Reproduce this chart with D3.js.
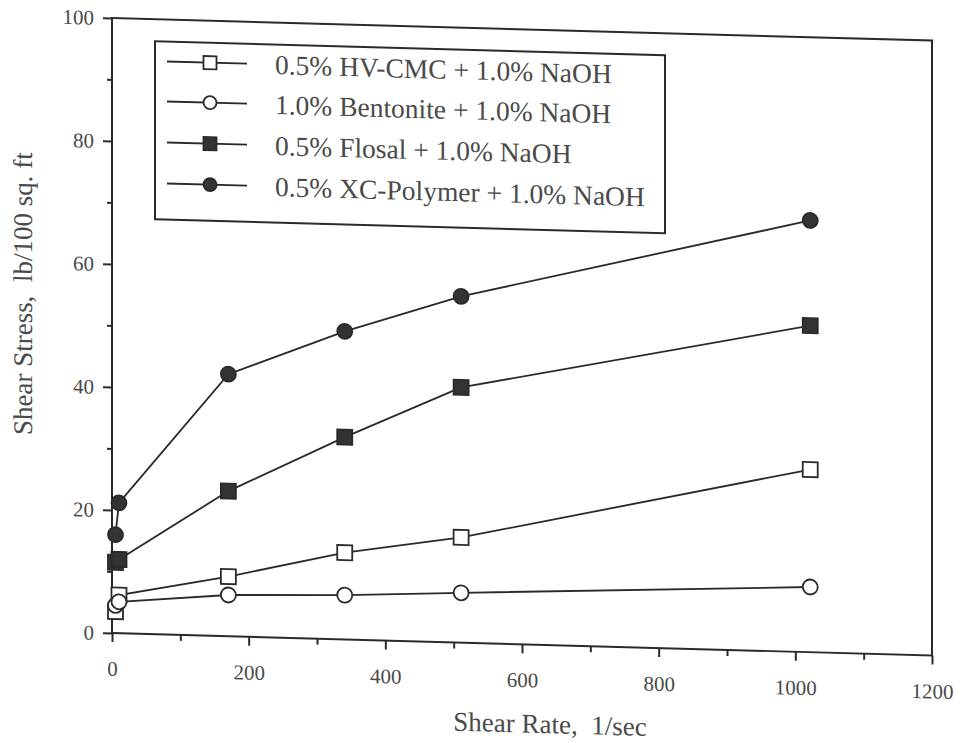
<!DOCTYPE html>
<html>
<head>
<meta charset="utf-8">
<script src="https://cdn.jsdelivr.net/npm/d3@7"></script>
<style>
  html, body { margin: 0; padding: 0; background: #ffffff; }
  svg text { font-family: "Liberation Serif", "Times New Roman", serif; fill: #4a4a4a; white-space: pre; }
</style>
</head>
<body>
<svg id="chart" width="960" height="743"></svg>
<script>
// ---- data ----
const shearRate = [5.11, 10.22, 170.3, 340.6, 510.9, 1021.8];
const hvCmc     = [3.5, 6.2, 9.7, 14.1, 17.1, 29.7];
const bentonite = [4.5, 5.1, 6.7, 7.2, 8.1, 10.6];
const flosal    = [11.5, 12.0, 23.6, 32.9, 41.5, 53.1];
const xcPolymer = [16.0, 21.2, 42.6, 50.1, 56.3, 70.2];
const seriesNames = [
  "0.5% HV-CMC + 1.0% NaOH",
  "1.0% Bentonite + 1.0% NaOH",
  "0.5% Flosal + 1.0% NaOH",
  "0.5% XC-Polymer + 1.0% NaOH"
];
const seriesMarkers = ["openSquare", "openCircle", "filledSquare", "filledCircle"];
const xTicks = [0, 200, 400, 600, 800, 1000, 1200];
const xMinorTicks = [100, 300, 500, 700, 900, 1100];
const yTicks = [0, 20, 40, 60, 80, 100];
const yMinorTicks = [10, 30, 50, 70, 90];
const xTitle = "Shear Rate,  1/sec";
const yTitle = "Shear Stress,  lb/100 sq. ft";

const seriesValues = [hvCmc, bentonite, flosal, xcPolymer];

// ---- layout ----
const FONT = '"Liberation Serif", "Times New Roman", serif';
const pLeft = 112, pRight = 932, pTop = 18, pBottom = 633;
const skew = 0.0275; // page skew of the scanned figure
const ink = "#2a2a2a";

const svg = d3.select("#chart").attr("font-family", FONT);
const g = svg.append("g").attr("transform", `matrix(1,${skew},0,1,0,${-skew * pLeft})`);

const x = d3.scaleLinear().domain([0, 1200]).range([pLeft, pRight]);
const y = d3.scaleLinear().domain([0, 100]).range([pBottom, pTop]);

// frame
g.append("rect").attr("x", pLeft).attr("y", pTop).attr("width", pRight - pLeft).attr("height", pBottom - pTop)
  .attr("fill", "none").attr("stroke", ink).attr("stroke-width", 2);

// axes
function styleAxis(sel) {
  sel.attr("font-family", FONT);
  sel.select(".domain").remove();
  sel.selectAll(".tick line").attr("stroke", ink).attr("stroke-width", 2);
  sel.selectAll(".tick text").attr("font-size", 21).attr("font-family", FONT).attr("fill", "#4a4a4a");
}
g.append("g").attr("transform", `translate(0,${pBottom})`)
  .call(d3.axisBottom(x).tickValues(xTicks).tickSize(9).tickPadding(19).tickFormat(d3.format("d")))
  .call(styleAxis);
g.append("g").attr("transform", `translate(0,${pBottom})`)
  .call(d3.axisBottom(x).tickValues(xMinorTicks).tickSize(6).tickFormat(""))
  .call(styleAxis);
g.append("g").attr("transform", `translate(${pLeft},0)`)
  .call(d3.axisLeft(y).tickValues(yTicks).tickSize(9).tickPadding(9).tickFormat(d3.format("d")))
  .call(styleAxis);
g.append("g").attr("transform", `translate(${pLeft},0)`)
  .call(d3.axisLeft(y).tickValues(yMinorTicks).tickSize(5).tickFormat(""))
  .call(styleAxis);

// axis titles
g.append("text").attr("x", 550).attr("y", 715).attr("text-anchor", "middle")
  .attr("font-size", 27).attr("font-family", FONT).attr("dominant-baseline", "middle").text(xTitle);
g.append("text").attr("transform", `translate(26,${296}) rotate(-90)`).attr("text-anchor", "middle")
  .attr("font-size", 27).attr("font-family", FONT).attr("dominant-baseline", "middle").text(yTitle);

// marker drawing
function drawMarker(sel, type, cx, cy, size) {
  const filled = type.startsWith("filled");
  const fill = filled ? "#333333" : "#ffffff";
  if (type.endsWith("Square")) {
    sel.append("rect").attr("x", cx - size / 2).attr("y", cy - size / 2)
      .attr("width", size).attr("height", size)
      .attr("fill", fill).attr("stroke", ink).attr("stroke-width", 1.8);
  } else {
    sel.append("circle").attr("cx", cx).attr("cy", cy).attr("r", size / 2)
      .attr("fill", fill).attr("stroke", ink).attr("stroke-width", 1.8);
  }
}

const line = d3.line().x(d => x(d[0])).y(d => y(d[1]));
seriesValues.forEach((vals, i) => {
  const pts = shearRate.map((r, j) => [r, vals[j]]);
  g.append("path").datum(pts).attr("d", line).attr("fill", "none")
    .attr("stroke", ink).attr("stroke-width", 1.8);
});
seriesValues.forEach((vals, i) => {
  const mg = g.append("g");
  shearRate.forEach((r, j) => drawMarker(mg, seriesMarkers[i], x(r), y(vals[j]), 15));
});

// legend
const lg = g.append("g");
lg.append("rect").attr("x", 155).attr("y", 40).attr("width", 510).attr("height", 178)
  .attr("fill", "#ffffff").attr("stroke", ink).attr("stroke-width", 2);
const rowY = [60, 100, 141, 182];
seriesNames.forEach((name, i) => {
  lg.append("line").attr("x1", 167).attr("x2", 247).attr("y1", rowY[i]).attr("y2", rowY[i])
    .attr("stroke", ink).attr("stroke-width", 1.8);
  drawMarker(lg, seriesMarkers[i], 210, rowY[i], 13);
  lg.append("text").attr("x", 275).attr("y", rowY[i]).attr("dy", "0.35em")
    .attr("font-size", 27.5).attr("font-family", FONT).text(name);
});
</script>
</body>
</html>
